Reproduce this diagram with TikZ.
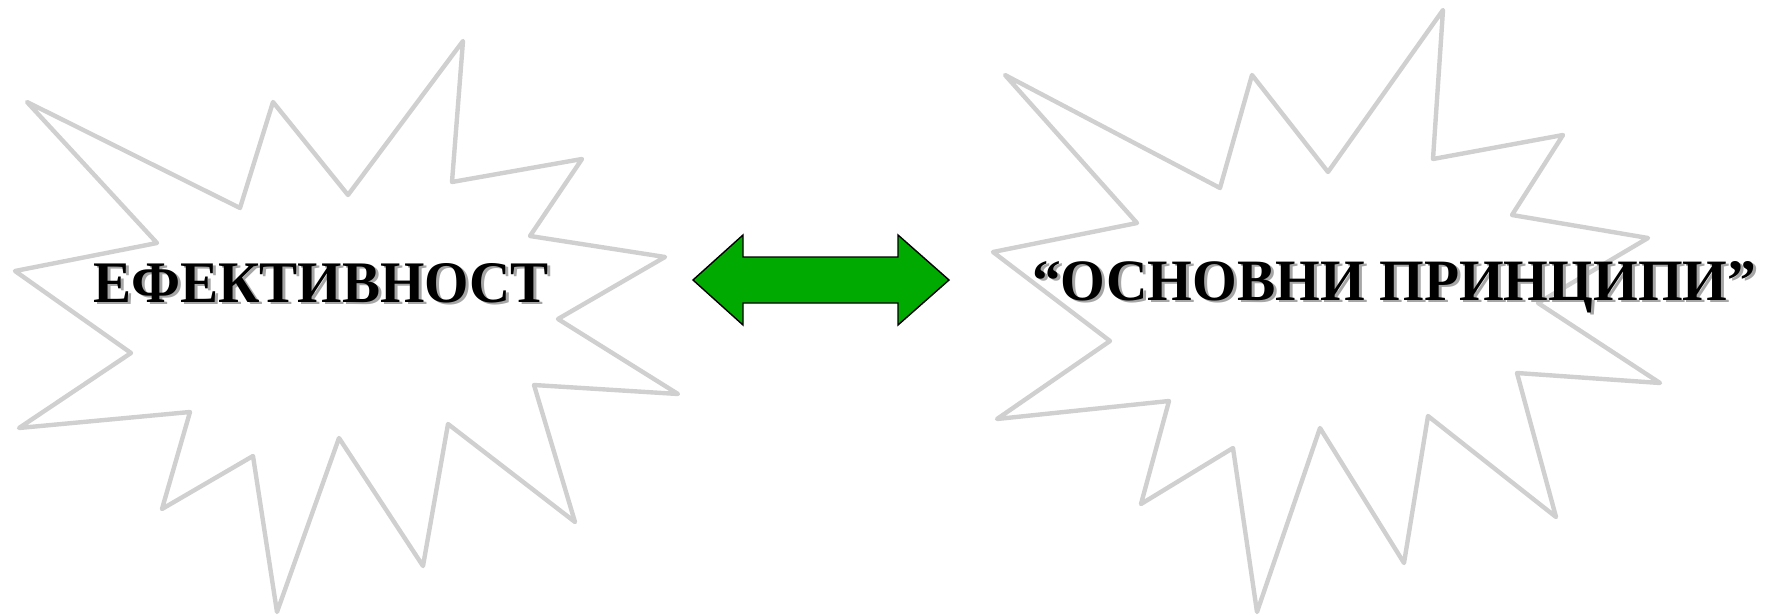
\documentclass[tikz,border=0pt]{standalone}
\usepackage{fontspec}
\setmainfont{Liberation Serif}
\usepackage{graphicx}
\definecolor{burstgray}{HTML}{D0D0D0}
\definecolor{shadowgray}{HTML}{A6A6A6}
\definecolor{arrowgreen}{HTML}{00AA00}
\begin{document}
\begin{tikzpicture}[x=0.5pt,y=-0.5pt,
  burst/.style={draw=burstgray,line width=2.2pt,line join=round,line cap=round},
  dblarrow/.style={draw=black,line width=0.7pt,fill=arrowgreen,line join=miter},
  titletext/.style={inner sep=0pt,outer sep=0pt,anchor=base west,text=black},
  shadowtext/.style={inner sep=0pt,outer sep=0pt,anchor=base west,text=shadowgray}]
\useasboundingbox (0,0) rectangle (1779,616);
% left starburst
\draw[burst] (27,102) -- (157,243) -- (15,271) -- (131,353) -- (19,428) -- (190,412)
  -- (162,509) -- (253,456) -- (277,612) -- (339,438) -- (423,566) -- (448,424)
  -- (575,522) -- (534,385) -- (678,394) -- (558,319) -- (665,257) -- (530,236)
  -- (582,159) -- (452,182) -- (463,41) -- (348,195) -- (273,102) -- (240,208) -- cycle;
% right starburst
\draw[burst] (1005,75) -- (1137,223) -- (993,252) -- (1110,341) -- (997,419) -- (1169,401)
  -- (1141,504) -- (1233,448) -- (1257,612) -- (1320,428) -- (1404,563) -- (1428,416)
  -- (1556,517) -- (1517,373) -- (1660,383) -- (1538,303) -- (1648,238) -- (1512,215)
  -- (1563,135) -- (1433,159) -- (1443,10) -- (1328,172) -- (1252,75) -- (1220,188) -- cycle;
% double arrow
\draw[dblarrow] (693,280) -- (743,235) -- (743,257) -- (898,257) -- (898,235) -- (949,280)
  -- (898,325) -- (898,303) -- (743,303) -- (743,325) -- cycle;
% texts
\node[shadowtext] (lshadow) at (96,304) {\resizebox{228pt}{19.5pt}{\bfseries ЕФЕКТИВНОСТ}};
\node[titletext] (ltext) at (93,302) {\resizebox{228pt}{19.5pt}{\bfseries ЕФЕКТИВНОСТ}};
\node[shadowtext] (rshadow) at (1035,302) {\resizebox{362pt}{19.5pt}{\bfseries “ОСНОВНИ ПРИНЦИПИ”}};
\node[titletext] (rtext) at (1032,300) {\resizebox{362pt}{19.5pt}{\bfseries “ОСНОВНИ ПРИНЦИПИ”}};
\end{tikzpicture}
\end{document}
